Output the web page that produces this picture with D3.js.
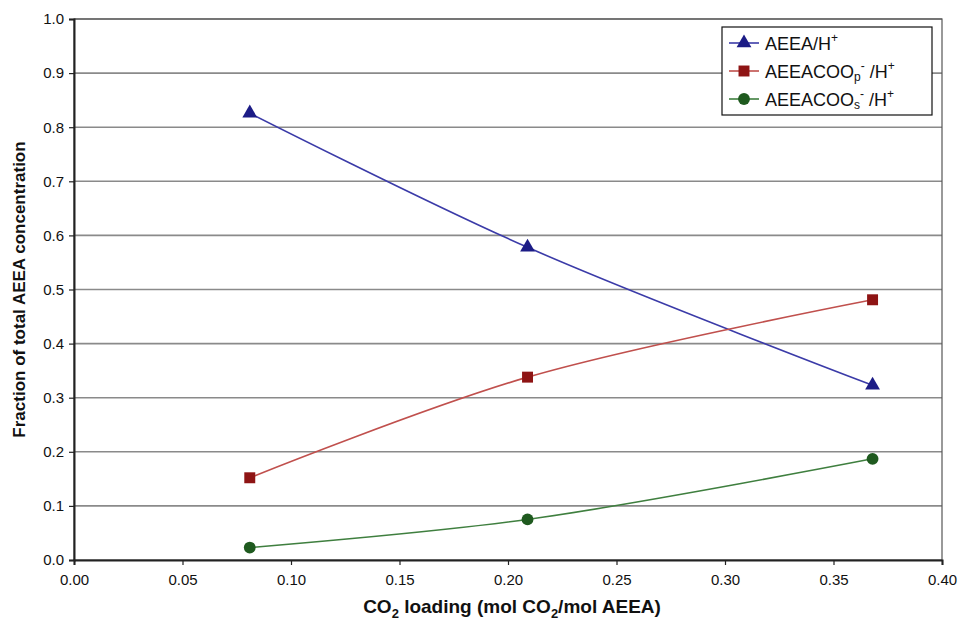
<!DOCTYPE html>
<html>
<head>
<meta charset="utf-8">
<script src="https://cdn.jsdelivr.net/npm/d3@7"></script>
<style>
  body { margin: 0; background: #fff; }
  text { font-family: "Liberation Sans", Arial, sans-serif; }
</style>
</head>
<body>
<svg id="chart" width="959" height="621"></svg>
<script>
// data
const loading = [0.081, 0.209, 0.368];
const aeea = [0.826, 0.578, 0.323];
const carbP = [0.152, 0.338, 0.481];
const carbS = [0.023, 0.075, 0.187];
const xTicks = [0, 0.05, 0.1, 0.15, 0.2, 0.25, 0.3, 0.35, 0.4];
const yTicks = [0, 0.1, 0.2, 0.3, 0.4, 0.5, 0.6, 0.7, 0.8, 0.9, 1.0];

const series = [
  { name: "AEEA/H", values: aeea, line: "#3b3ba8", fill: "#1c1c86", marker: "triangle" },
  { name: "AEEACOOp", values: carbP, line: "#c0504d", fill: "#8e1414", marker: "square" },
  { name: "AEEACOOs", values: carbS, line: "#3f7f3f", fill: "#1f5a1f", marker: "circle" }
];

const svg = d3.select("#chart");
const margin = { left: 74, right: 17, top: 19, bottom: 61 };
const W = 959, H = 621;

const x = d3.scaleLinear().domain([0, 0.4]).range([margin.left, W - margin.right]);
const y = d3.scaleLinear().domain([0, 1]).range([H - margin.bottom, margin.top]);

// gridlines
svg.append("g")
  .selectAll("line")
  .data(yTicks.slice(1))
  .join("line")
  .attr("x1", x(0)).attr("x2", x(0.4))
  .attr("y1", (d) => y(d)).attr("y2", (d) => y(d))
  .attr("stroke", "#8a8a8a")
  .attr("stroke-width", 1.6);

// frame
svg.append("rect")
  .attr("x", x(0)).attr("y", y(1))
  .attr("width", x(0.4) - x(0)).attr("height", y(0) - y(1))
  .attr("fill", "none")
  .attr("stroke", "#555")
  .attr("stroke-width", 1.2);

// axes
const xAxis = svg.append("g")
  .attr("transform", `translate(0,${y(0)})`)
  .call(d3.axisBottom(x).tickValues(xTicks).tickFormat(d3.format(".2f")).tickSize(5).tickPadding(9));
const yAxis = svg.append("g")
  .attr("transform", `translate(${x(0)},0)`)
  .call(d3.axisLeft(y).tickValues(yTicks).tickFormat(d3.format(".1f")).tickSize(5).tickPadding(5));

[xAxis, yAxis].forEach((g) => {
  g.select(".domain").attr("stroke", "#222").attr("stroke-width", 2);
  g.selectAll(".tick line").attr("stroke", "#222").attr("stroke-width", 1.2);
  g.selectAll(".tick text").attr("font-size", 15).attr("fill", "#111")
    .style("font-family", '"Liberation Sans", Arial, sans-serif');
});

// lines
const line = d3.line()
  .x((d, i) => x(loading[i]))
  .y((d) => y(d))
  .curve(d3.curveCatmullRom.alpha(0.5));

const triangle = d3.symbol().type(d3.symbolTriangle).size(95);
const square = d3.symbol().type(d3.symbolSquare).size(120);
const circle = d3.symbol().type(d3.symbolCircle).size(110);
const shapes = { triangle, square, circle };

series.forEach((s) => {
  svg.append("path")
    .datum(s.values)
    .attr("fill", "none")
    .attr("stroke", s.line)
    .attr("stroke-width", 1.6)
    .attr("d", line);

  svg.append("g")
    .selectAll("path")
    .data(s.values)
    .join("path")
    .attr("transform", (d, i) => `translate(${x(loading[i])},${y(d)})`)
    .attr("d", shapes[s.marker]())
    .attr("fill", s.fill);
});

// legend
const legend = svg.append("g").attr("transform", "translate(722,27)");
legend.append("rect")
  .attr("width", 210).attr("height", 88)
  .attr("fill", "#fff").attr("stroke", "#111").attr("stroke-width", 1.2);

series.forEach((s, i) => {
  const row = legend.append("g").attr("transform", `translate(0,${16 + i * 28})`);
  row.append("line")
    .attr("x1", 7).attr("x2", 37)
    .attr("stroke", s.line).attr("stroke-width", 1.6);
  row.append("path")
    .attr("transform", "translate(22,0)")
    .attr("d", shapes[s.marker]())
    .attr("fill", s.fill);
  const t = row.append("text")
    .attr("x", 43).attr("y", 7)
    .attr("font-size", 18).attr("fill", "#111");
  if (i === 0) {
    t.append("tspan").text("AEEA/H");
    t.append("tspan").attr("dy", -8).attr("font-size", 12).text("+");
  } else {
    t.append("tspan").text("AEEACOO");
    t.append("tspan").attr("dy", 3).attr("font-size", 12).text(i === 1 ? "p" : "s");
    t.append("tspan").attr("dy", -11).attr("font-size", 12).text("-");
    t.append("tspan").attr("dy", 8).text(" /H");
    t.append("tspan").attr("dy", -8).attr("font-size", 12).text("+");
  }
});

// axis titles
const xt = svg.append("text")
  .attr("x", 512).attr("y", 613)
  .attr("text-anchor", "middle")
  .attr("font-size", 19).attr("font-weight", "bold").attr("fill", "#111");
xt.append("tspan").text("CO");
xt.append("tspan").attr("dy", 5).attr("font-size", 13).text("2");
xt.append("tspan").attr("dy", -5).text(" loading (mol CO");
xt.append("tspan").attr("dy", 5).attr("font-size", 13).text("2");
xt.append("tspan").attr("dy", -5).text("/mol AEEA)");

svg.append("text")
  .attr("transform", `translate(25,${(y(0) + y(1)) / 2}) rotate(-90)`)
  .attr("text-anchor", "middle")
  .attr("font-size", 17).attr("font-weight", "bold").attr("fill", "#111")
  .text("Fraction of total AEEA concentration");
</script>
</body>
</html>
